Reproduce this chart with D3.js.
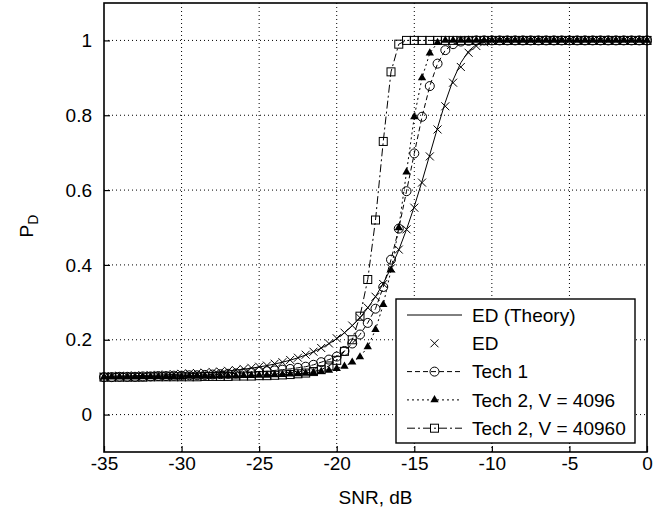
<!DOCTYPE html>
<html>
<head>
<meta charset="utf-8">
<script src="https://cdn.jsdelivr.net/npm/d3@7"></script>
<style>
  body { margin: 0; background: #fff; }
  text { font-family: "Liberation Sans", Arial, sans-serif; }
</style>
</head>
<body>
<div id="pd_chart"></div>
<script>
// SNR grid, dB (every 0.5 dB)
const snr = [-35,-34.5,-34,-33.5,-33,-32.5,-32,-31.5,-31,-30.5,
  -30,-29.5,-29,-28.5,-28,-27.5,-27,-26.5,-26,-25.5,
  -25,-24.5,-24,-23.5,-23,-22.5,-22,-21.5,-21,-20.5,
  -20,-19.5,-19,-18.5,-18,-17.5,-17,-16.5,-16,-15.5,
  -15,-14.5,-14,-13.5,-13,-12.5,-12,-11.5,-11,-10.5,
  -10,-9.5,-9,-8.5,-8,-7.5,-7,-6.5,-6,-5.5,
  -5,-4.5,-4,-3.5,-3,-2.5,-2,-1.5,-1,-0.5,
  0];

const pdTheory = [0.1025,0.1028,0.1031,0.1035,0.1040,0.1045,0.1051,0.1057,0.1064,0.1072,
  0.1081,0.1091,0.1103,0.1116,0.1131,0.1148,0.1167,0.1188,0.1213,0.1241,
  0.1273,0.1310,0.1351,0.1400,0.1454,0.1518,0.1592,0.1677,0.1777,0.1892,
  0.2029,0.2186,0.2374,0.2591,0.2849,0.3151,0.3506,0.3920,0.4399,0.4947,
  0.5562,0.6236,0.6949,0.7668,0.8349,0.8941,0.9403,0.9715,0.9891,0.9968,
  0.9994,0.9999,1,1,1,1,1,1,1,1,
  1,1,1,1,1,1,1,1,1,1,
  1];

const pdED = [0.101,0.103,0.104,0.103,0.105,0.104,0.106,0.106,0.107,0.108,
  0.109,0.110,0.111,0.112,0.114,0.115,0.117,0.119,0.122,0.125,
  0.128,0.131,0.136,0.140,0.146,0.152,0.160,0.168,0.178,0.190,
  0.204,0.219,0.238,0.259,0.286,0.315,0.349,0.391,0.441,0.495,
  0.553,0.620,0.690,0.762,0.824,0.887,0.929,0.967,0.985,0.995,
  0.999,1,1,1,1,1,1,1,1,1,
  1,1,1,1,1,1,1,1,1,1,
  1];

const pdTech1 = [0.100,0.100,0.101,0.101,0.101,0.102,0.102,0.103,0.103,0.104,
  0.104,0.105,0.105,0.106,0.107,0.108,0.109,0.110,0.111,0.113,
  0.115,0.116,0.118,0.120,0.122,0.125,0.128,0.133,0.140,0.147,
  0.155,0.170,0.190,0.214,0.245,0.283,0.341,0.414,0.497,0.597,
  0.698,0.796,0.878,0.938,0.974,0.990,0.997,0.999,1,1,
  1,1,1,1,1,1,1,1,1,1,
  1,1,1,1,1,1,1,1,1,1,
  1];

const pdTech2V4096 = [0.100,0.100,0.100,0.100,0.100,0.101,0.101,0.101,0.101,0.101,
  0.101,0.102,0.102,0.102,0.102,0.103,0.103,0.103,0.104,0.104,
  0.105,0.105,0.106,0.107,0.108,0.109,0.110,0.112,0.115,0.118,
  0.123,0.129,0.140,0.154,0.181,0.227,0.294,0.386,0.499,0.648,
  0.796,0.900,0.966,0.994,1,1,1,1,1,1,
  1,1,1,1,1,1,1,1,1,1,
  1,1,1,1,1,1,1,1,1,1,
  1];

const pdTech2V40960 = [0.100,0.100,0.100,0.100,0.100,0.100,0.101,0.101,0.101,0.101,
  0.101,0.101,0.101,0.102,0.102,0.102,0.102,0.103,0.103,0.103,
  0.104,0.104,0.105,0.106,0.107,0.109,0.111,0.115,0.120,0.130,
  0.145,0.169,0.200,0.263,0.361,0.520,0.730,0.916,0.990,1,
  1,1,1,1,1,1,1,1,1,1,
  1,1,1,1,1,1,1,1,1,1,
  1,1,1,1,1,1,1,1,1,1,
  1];

const seriesNames = ["ED (Theory)", "ED", "Tech 1", "Tech 2, V = 4096", "Tech 2, V = 40960"];
const xTicks = [-35, -30, -25, -20, -15, -10, -5, 0];
const yTicks = [0, 0.2, 0.4, 0.6, 0.8, 1];

const fontSize = 19;
const margin = {top: 3, right: 20, bottom: 60, left: 104},
    width = 647 - margin.left,
    height = 452 - margin.top;

const svg = d3.select("#pd_chart")
  .append("svg")
    .attr("width", 667)
    .attr("height", 512)
  .append("g")
    .attr("transform", `translate(${margin.left}, ${margin.top})`);

const x = d3.scaleLinear().domain([-35, 0]).range([0, width]);
const y = d3.scaleLinear().domain([-0.1, 1.1]).range([height, 0]);

// dotted grid
svg.append("g").selectAll("line.vg")
  .data(xTicks.slice(1, -1))
  .join("line")
    .attr("x1", d => x(d)).attr("x2", d => x(d))
    .attr("y1", 0).attr("y2", height)
    .attr("stroke", "#000").attr("stroke-width", 1)
    .attr("stroke-dasharray", "1,3");
svg.append("g").selectAll("line.hg")
  .data(yTicks)
  .join("line")
    .attr("x1", 0).attr("x2", width)
    .attr("y1", d => y(d)).attr("y2", d => y(d))
    .attr("stroke", "#000").attr("stroke-width", 1)
    .attr("stroke-dasharray", "1,3");

// axes, ticks pointing inward
const xAxis = svg.append("g")
  .attr("transform", `translate(0, ${height})`)
  .call(d3.axisBottom(x).tickValues(xTicks).tickSizeInner(-6).tickSizeOuter(0).tickPadding(5).tickFormat(d => d));
const yAxis = svg.append("g")
  .call(d3.axisLeft(y).tickValues(yTicks).tickSizeInner(-6).tickSizeOuter(0).tickPadding(12).tickFormat(d => d));
[xAxis, yAxis].forEach(a => {
  a.select(".domain").remove();
  a.selectAll("line").attr("stroke", "#000").attr("stroke-width", 1.2);
  a.selectAll("text")
    .attr("font-size", fontSize)
    .attr("font-family", "'Liberation Sans', Arial, sans-serif")
    .attr("fill", "#000");
});

// curves
const line = d3.line()
  .x((d, i) => x(snr[i]))
  .y(d => y(d));

function drawLine(vals, dash) {
  svg.append("path")
    .datum(vals)
    .attr("d", line)
    .attr("fill", "none")
    .attr("stroke", "#000")
    .attr("stroke-width", 1)
    .attr("stroke-dasharray", dash);
}

function crossPath(s) {
  return `M${-s},${-s}L${s},${s}M${-s},${s}L${s},${-s}`;
}
const triangle = d3.symbol(d3.symbolTriangle, 30);

function drawMarkers(g, kind) {
  if (kind === "cross") {
    g.append("path").attr("d", crossPath(4)).attr("stroke", "#000").attr("fill", "none");
  } else if (kind === "circle") {
    g.append("circle").attr("r", 4.5).attr("stroke", "#000").attr("fill", "none");
  } else if (kind === "triangle") {
    g.append("path").attr("d", triangle()).attr("fill", "#000");
  } else if (kind === "square") {
    g.append("rect").attr("x", -4).attr("y", -4).attr("width", 8).attr("height", 8)
      .attr("stroke", "#000").attr("fill", "none");
  }
}

function drawPoints(vals, kind) {
  svg.append("g").selectAll("g")
    .data(vals)
    .join("g")
      .attr("transform", (d, i) => `translate(${x(snr[i])}, ${y(d)})`)
      .each(function() { drawMarkers(d3.select(this), kind); });
}

const series = [
  {vals: pdTheory, dash: null, marker: null},
  {vals: pdED, dash: "none", marker: "cross"},
  {vals: pdTech1, dash: "5,3", marker: "circle"},
  {vals: pdTech2V4096, dash: "2,3", marker: "triangle"},
  {vals: pdTech2V40960, dash: "8,3,2,3", marker: "square"}
];

series.forEach(s => {
  if (s.dash !== "none") drawLine(s.vals, s.dash);
  if (s.marker) drawPoints(s.vals, s.marker);
});

// frame
svg.append("rect")
  .attr("width", width).attr("height", height)
  .attr("fill", "none").attr("stroke", "#000").attr("stroke-width", 1.6);

// legend
const legend = svg.append("g")
  .attr("transform", `translate(${396 - margin.left}, ${299 - margin.top})`);
legend.append("rect")
  .attr("width", 239).attr("height", 144)
  .attr("fill", "#fff").attr("stroke", "#000").attr("stroke-width", 1.4);

seriesNames.forEach((name, i) => {
  const s = series[i];
  const row = legend.append("g").attr("transform", `translate(0, ${16 + i * 28.3})`);
  if (s.dash !== "none") {
    row.append("line")
      .attr("x1", 11).attr("x2", 66)
      .attr("stroke", "#000").attr("stroke-width", 1)
      .attr("stroke-dasharray", s.dash);
  }
  if (s.marker) {
    const m = row.append("g").attr("transform", "translate(38.5, 0)");
    drawMarkers(m, s.marker);
  }
  row.append("text")
    .attr("x", 76).attr("dy", "0.36em")
    .attr("font-size", fontSize)
    .attr("fill", "#000")
    .text(name);
});

// axis labels
svg.append("text")
  .attr("x", width / 2).attr("y", 504 - margin.top)
  .attr("text-anchor", "middle")
  .attr("font-size", fontSize)
  .text("SNR, dB");

const yLabel = svg.append("text")
  .attr("transform", `translate(${33 - margin.left}, ${226 - margin.top}) rotate(-90)`)
  .attr("text-anchor", "middle")
  .attr("font-size", fontSize);
yLabel.append("tspan").text("P");
yLabel.append("tspan").attr("dy", 5).attr("font-size", 14).text("D");
</script>
</body>
</html>
